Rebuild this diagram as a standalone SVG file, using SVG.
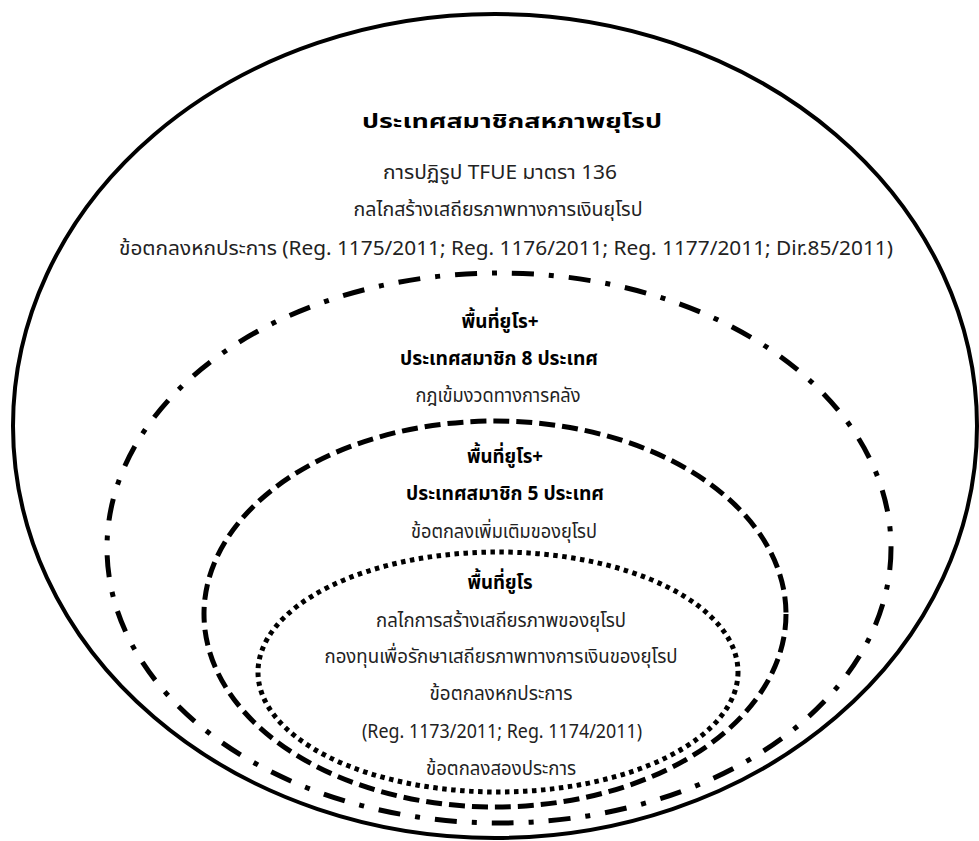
<svg xmlns="http://www.w3.org/2000/svg" width="979" height="841" viewBox="0 0 979 841">
<style>
.sh{fill:none;stroke:#000}
.t{font-family:"Noto Sans Thai","Noto Sans","DejaVu Sans",sans-serif;font-size:20px;fill:#000;text-anchor:middle}
.n{fill:#222}
.b{font-weight:bold}
</style>
<rect width="979" height="841" fill="#fff"/>
<g id="eu">
<ellipse class="sh" cx="495" cy="426" rx="482" ry="412" stroke-width="4"/>
<text class="t b" x="512" y="128" font-size="27" textLength="300" lengthAdjust="spacingAndGlyphs">ประเทศสมาชิกสหภาพยุโรป</text>
<text class="t n" x="500" y="179" textLength="234" lengthAdjust="spacingAndGlyphs">การปฏิรูป TFUE มาตรา 136</text>
<text class="t n" x="498" y="216" textLength="289" lengthAdjust="spacingAndGlyphs">กลไกสร้างเสถียรภาพทางการเงินยุโรป</text>
<text class="t n" x="506" y="255" textLength="774" lengthAdjust="spacingAndGlyphs">ข้อตกลงหกประการ (Reg. 1175/2011; Reg. 1176/2011; Reg. 1177/2011; Dir.85/2011)</text>
</g>
<g id="euro-plus-8">
<ellipse class="sh" cx="499" cy="548" rx="392" ry="275" stroke-width="5" stroke-dasharray="22 15 5 15"/>
<text class="t b" x="500" y="328" textLength="77" lengthAdjust="spacingAndGlyphs">พื้นที่ยูโร+</text>
<text class="t b" x="499" y="365" textLength="198" lengthAdjust="spacingAndGlyphs">ประเทศสมาชิก 8 ประเทศ</text>
<text class="t n" x="498" y="402" textLength="165" lengthAdjust="spacingAndGlyphs">กฎเข้มงวดทางการคลัง</text>
</g>
<g id="euro-plus-5">
<ellipse class="sh" cx="495" cy="614" rx="291" ry="193" stroke-width="5" stroke-dasharray="16 7"/>
<text class="t b" x="505" y="463" textLength="76" lengthAdjust="spacingAndGlyphs">พื้นที่ยูโร+</text>
<text class="t b" x="505" y="500" textLength="198" lengthAdjust="spacingAndGlyphs">ประเทศสมาชิก 5 ประเทศ</text>
<text class="t n" x="504" y="538" textLength="186" lengthAdjust="spacingAndGlyphs">ข้อตกลงเพิ่มเติมของยุโรป</text>
</g>
<g id="eurozone">
<ellipse class="sh" cx="498" cy="672" rx="240" ry="120" stroke-width="5" stroke-dasharray="4.5 4.5"/>
<text class="t b" x="500" y="589" textLength="65" lengthAdjust="spacingAndGlyphs">พื้นที่ยูโร</text>
<text class="t n" x="501" y="627" textLength="250" lengthAdjust="spacingAndGlyphs">กลไกการสร้างเสถียรภาพของยุโรป</text>
<text class="t n" x="501" y="663" textLength="353" lengthAdjust="spacingAndGlyphs">กองทุนเพื่อรักษาเสถียรภาพทางการเงินของยุโรป</text>
<text class="t n" x="501" y="700" textLength="143" lengthAdjust="spacingAndGlyphs">ข้อตกลงหกประการ</text>
<text class="t n" x="502" y="738" textLength="280" lengthAdjust="spacingAndGlyphs">(Reg. 1173/2011; Reg. 1174/2011)</text>
<text class="t n" x="501" y="775" textLength="150" lengthAdjust="spacingAndGlyphs">ข้อตกลงสองประการ</text>
</g>
</svg>
